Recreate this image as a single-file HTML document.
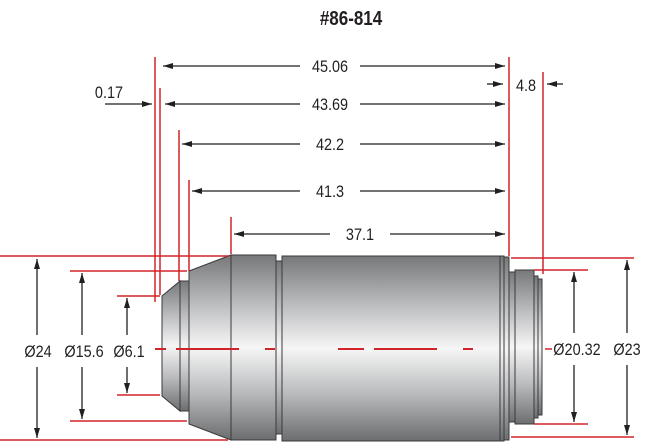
<!DOCTYPE html>
<html><head><style>
html,body{margin:0;padding:0;background:#fff;}
svg{display:block;}
text{font-family:"Liberation Sans",sans-serif;font-size:17px;fill:#231f20;transform-box:fill-box;transform-origin:center;transform:scaleX(0.85);}
</style></head><body>
<svg width="650" height="446" viewBox="0 0 650 446" xmlns="http://www.w3.org/2000/svg">
<defs>
<linearGradient id="g" x1="0" y1="0" x2="0" y2="1">
<stop offset="0" stop-color="#77787a"/><stop offset="0.25" stop-color="#b8b9bb"/>
<stop offset="0.5" stop-color="#f6f6f6"/><stop offset="0.75" stop-color="#b8b9bb"/>
<stop offset="1" stop-color="#6c6d6f"/></linearGradient>
<marker id="a" markerWidth="10" markerHeight="6" refX="10" refY="3" orient="auto" markerUnits="userSpaceOnUse">
<path d="M0,0 L10,3 L0,6 Z" fill="#231f20"/></marker>
</defs>
<text x="351" y="25" text-anchor="middle" style="font-weight:bold;font-size:20px">#86-814</text>
<g stroke="#3a3a3c" stroke-width="1" fill="url(#g)">
<path d="M162,296 L180,281 L180,411 L162,396 Z"/>
<rect x="180" y="281" width="9" height="130"/>
<path d="M189,271 L231,255 L231,440 L189,424 Z"/>
<rect x="231" y="255" width="45" height="185"/>
<rect x="276" y="261" width="6" height="173"/>
<rect x="282" y="256" width="218" height="185"/>
<rect x="500" y="256" width="4" height="185"/>
<rect x="504" y="257" width="5" height="183"/>
<rect x="509" y="272" width="6" height="150"/>
<rect x="515" y="270" width="19" height="154"/>
<rect x="534" y="276" width="4" height="142"/>
<rect x="538" y="279" width="4" height="136"/>
</g>
<g stroke="#d2232a" stroke-width="1.5" fill="none">
<line x1="155" y1="57" x2="155" y2="302"/>
<line x1="160" y1="88" x2="160" y2="295"/>
<line x1="179" y1="130" x2="179" y2="281"/>
<line x1="189" y1="180" x2="189" y2="271"/>
<line x1="231" y1="217" x2="231" y2="254"/>
<line x1="509" y1="57" x2="509" y2="256"/>
<line x1="543" y1="72" x2="543" y2="274"/>
<line x1="0" y1="256" x2="229" y2="256"/>
<line x1="70" y1="271" x2="187" y2="271"/>
<line x1="117" y1="296" x2="160" y2="296"/>
<line x1="117" y1="395" x2="160" y2="395"/>
<line x1="70" y1="421" x2="187" y2="421"/>
<line x1="0" y1="440" x2="228" y2="440"/>
<line x1="511" y1="258" x2="634" y2="258"/>
<line x1="534" y1="270" x2="588" y2="270"/>
<line x1="534" y1="424" x2="588" y2="424"/>
<line x1="511" y1="437" x2="634" y2="437"/>
<line x1="545" y1="349" x2="552" y2="349"/>
<g stroke-width="2">
<line x1="155" y1="349" x2="166" y2="349"/>
<line x1="176" y1="349" x2="239" y2="349"/>
<line x1="265" y1="349" x2="275" y2="349"/>
<line x1="338" y1="349" x2="364" y2="349"/>
<line x1="374" y1="349" x2="437" y2="349"/>
<line x1="463" y1="349" x2="473" y2="349"/>
</g>
</g>
<g stroke="#231f20" stroke-width="1.3" marker-end="url(#a)">
<line x1="300" y1="66" x2="163" y2="66"/><line x1="360" y1="66" x2="505" y2="66"/>
<line x1="300" y1="104" x2="165" y2="104"/><line x1="360" y1="104" x2="505" y2="104"/>
<line x1="300" y1="144" x2="182" y2="144"/><line x1="360" y1="144" x2="505" y2="144"/>
<line x1="300" y1="191" x2="192" y2="191"/><line x1="360" y1="191" x2="505" y2="191"/>
<line x1="330" y1="234" x2="234" y2="234"/><line x1="390" y1="234" x2="505" y2="234"/>
<line x1="105" y1="104" x2="152" y2="104"/>
<line x1="487" y1="84" x2="503" y2="84"/>
<line x1="563" y1="84" x2="547" y2="84"/>
<line x1="37" y1="335" x2="37" y2="259"/><line x1="37" y1="367" x2="37" y2="438"/>
<line x1="82" y1="335" x2="82" y2="273"/><line x1="82" y1="367" x2="82" y2="419"/>
<line x1="127" y1="335" x2="127" y2="298"/><line x1="127" y1="367" x2="127" y2="393"/>
<line x1="574" y1="333" x2="574" y2="272"/><line x1="574" y1="365" x2="574" y2="422"/>
<line x1="627" y1="333" x2="627" y2="260"/><line x1="627" y1="365" x2="627" y2="435"/>
</g>
<g>
<text x="330" y="72" text-anchor="middle">45.06</text>
<text x="330" y="110" text-anchor="middle">43.69</text>
<text x="330" y="150" text-anchor="middle">42.2</text>
<text x="330" y="197" text-anchor="middle">41.3</text>
<text x="360" y="240" text-anchor="middle">37.1</text>
<text x="109" y="98" text-anchor="middle">0.17</text>
<text x="526" y="91" text-anchor="middle">4.8</text>
<text x="38" y="357" text-anchor="middle">Ø24</text>
<text x="84" y="357" text-anchor="middle">Ø15.6</text>
<text x="129" y="357" text-anchor="middle">Ø6.1</text>
<text x="577" y="355" text-anchor="middle">Ø20.32</text>
<text x="627" y="355" text-anchor="middle">Ø23</text>
</g>
</svg>
</body></html>
